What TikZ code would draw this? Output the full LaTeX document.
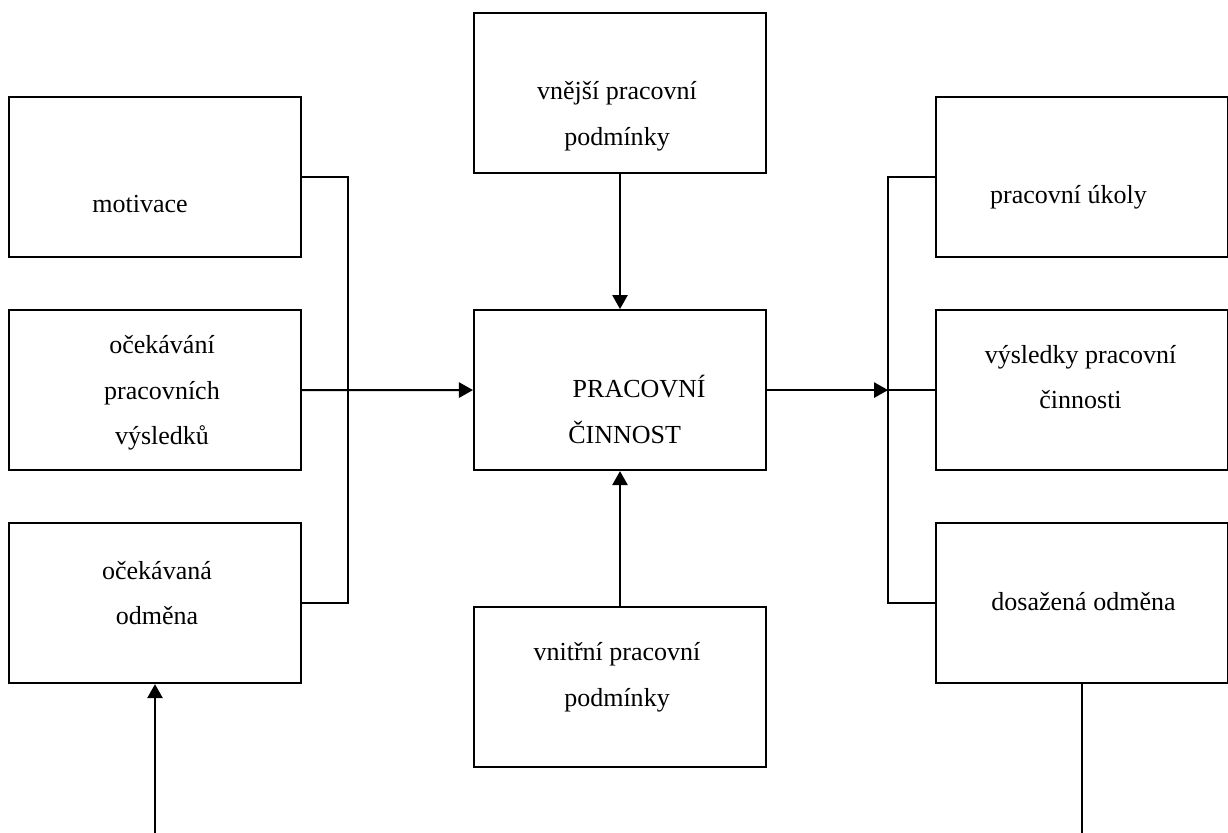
\documentclass[tikz,border=0pt]{standalone}
\usepackage{fontspec}
\setmainfont{Liberation Serif}
\usetikzlibrary{arrows.meta,positioning}

\begin{document}
\begin{tikzpicture}[
    x=0.025cm, y=-0.025cm,
    node distance=1.275cm,
    every node/.style={font=\fontsize{18.5}{32.4}\selectfont},
    workbox/.style={rectangle, draw=black, line width=0.05cm,
                    minimum width=7.3cm, minimum height=4cm, inner sep=0pt},
    worktext/.style={inner sep=0pt, align=center},
    link/.style={line width=0.05cm, color=black},
    arrow/.style={link, -{Triangle[length=0.35cm, width=0.38cm]}}
]
\useasboundingbox (0,0) rectangle (1228,833);
\coordinate (floor) at (0,833);

\node[workbox] (mot) at (155,177) {};
\node[workbox, below=of mot] (ocek) {};
\node[workbox, below=of ocek] (odm) {};
\node[workbox] (vnej) at (620,93) {};
\node[workbox, below=3.375cm of vnej] (cin) {};
\node[workbox, below=3.375cm of cin] (vnit) {};
\node[workbox] (ukol) at (1082,177) {};
\node[workbox, below=of ukol] (vysl) {};
\node[workbox, below=of vysl] (dos) {};

\node[worktext] (mot-t) at ([shift={(-15,27)}]mot.center) {motivace};
\node[worktext] (ocek-t) at ([shift={(7,3)}]ocek.center) {očekávání\\pracovních\\výsledků};
\node[worktext] (odm-t) at ([shift={(2,-10)}]odm.center) {očekávaná\\odměna};
\node[worktext] (vnej-t) at ([shift={(-3,23)}]vnej.center) {vnější pracovní\\podmínky};
\node[worktext, align=left] (cin-t) at ([shift={(17,19.5)}]cin.center) {\,PRACOVNÍ\\ČINNOST};
\node[worktext] (vnit-t) at ([shift={(-3,-10)}]vnit.center) {vnitřní pracovní\\podmínky};
\node[worktext] (ukol-t) at ([shift={(-13.5,20)}]ukol.center) {pracovní úkoly};
\node[worktext] (vysl-t) at ([shift={(-1.5,-13)}]vysl.center) {výsledky pracovní\\činnosti};
\node[worktext] (dos-t) at ([shift={(1.5,-2)}]dos.center) {dosažená odměna};

\coordinate (lbus) at ([xshift=1.15cm]ocek.east);
\coordinate (rbus) at ([xshift=3.025cm]cin.east);
\coordinate (odmin) at (odm.south |- floor);
\coordinate (dosout) at (dos.south |- floor);

\draw[link] (mot.east) -| (lbus) |- (odm.east);
\draw[arrow] (ocek) -- (cin);
\draw[arrow] (cin) -- (rbus);
\draw[link] (ukol.west) -| (rbus) |- (dos.west);
\draw[link] (rbus) -- (rbus -| vysl.west);
\draw[arrow] (vnej) -- (cin);
\draw[arrow] (vnit) -- (cin);
\draw[arrow] (odmin) -- (odm);
\draw[link] (dos) -- (dosout);
\end{tikzpicture}
\end{document}
